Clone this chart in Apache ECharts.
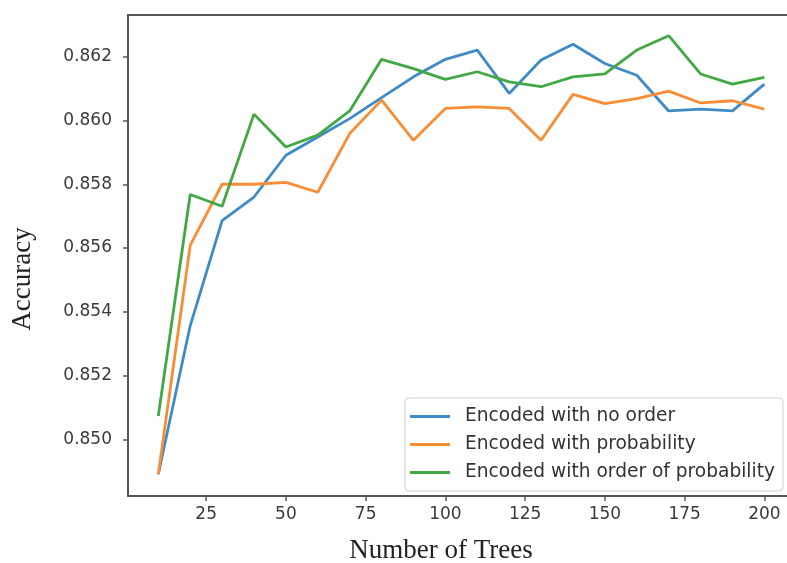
<!DOCTYPE html>
<html>
<head>
<meta charset="utf-8">
<script src="https://cdn.jsdelivr.net/npm/echarts@6/dist/echarts.min.js"></script>
<style>
  html, body { margin: 0; padding: 0; background: #fff; }
  #chart { width: 787px; height: 563px; }
</style>
</head>
<body>
<div id="chart"></div>
<script>
const trees = [10, 20, 30, 40, 50, 60, 70, 80, 90, 100, 110, 120, 130, 140, 150, 160, 170, 180, 190, 200];
const noOrder = [0.8489, 0.85356, 0.85686, 0.8576, 0.85891, 0.85948, 0.86006, 0.86072, 0.86137, 0.86192,
  0.86221, 0.86085, 0.8619, 0.86239, 0.86179, 0.86142, 0.8603, 0.86036, 0.8603, 0.86114];
const probability = [0.8489, 0.85608, 0.8580, 0.8580, 0.85806, 0.85775, 0.85959, 0.86064, 0.85938, 0.86038,
  0.86043, 0.86038, 0.85938, 0.86082, 0.86053, 0.86069, 0.86092, 0.86055, 0.86062, 0.86036];
const orderOfProbability = [0.85073, 0.85768, 0.85731, 0.8602, 0.85917, 0.85954, 0.8603, 0.86192, 0.86163, 0.86129,
  0.86153, 0.86121, 0.86106, 0.86137, 0.86146, 0.86221, 0.86266, 0.86146, 0.86114, 0.86135];
const xTicks = [25, 50, 75, 100, 125, 150, 175, 200];
const yTicks = [0.850, 0.852, 0.854, 0.856, 0.858, 0.860, 0.862];
const seriesNames = ['Encoded with no order', 'Encoded with probability', 'Encoded with order of probability'];
const colors = ['#3f8bc6', '#f98d35', '#42a843'];

const chart = echarts.init(document.getElementById('chart'));

const pairs = (vals) => trees.map((t, i) => [t, vals[i]]);
const tickFont = { fontFamily: 'DejaVu Sans', fontSize: 17, color: '#3a3a3a' };
const frameLine = { color: '#555', width: 2 };

// the original figure is cropped on the right: no right spine, x range stops short
const option = {
  animation: false,
  color: colors,
  grid: { left: 128, top: 15, right: 0, height: 481 },
  xAxis: [
    {
      type: 'value',
      min: 0.5,
      max: 207.1,
      splitLine: { show: false },
      axisLine: { lineStyle: frameLine },
      axisTick: { customValues: xTicks, length: 5, lineStyle: { color: '#555', width: 1.5 } },
      axisLabel: { customValues: xTicks, margin: 10, ...tickFont },
    },
    {
      // top spine only
      type: 'value',
      position: 'top',
      min: 0.5,
      max: 207.1,
      splitLine: { show: false },
      axisLine: { show: true, lineStyle: frameLine },
      axisTick: { show: false },
      axisLabel: { show: false },
    },
  ],
  yAxis: {
    type: 'value',
    min: 0.84822,
    max: 0.86331,
    splitLine: { show: false },
    axisLine: { show: true, lineStyle: frameLine },
    axisTick: { show: true, customValues: yTicks, length: 5, lineStyle: { color: '#555', width: 1.5 } },
    axisLabel: { customValues: yTicks, margin: 16, formatter: (v) => v.toFixed(3), ...tickFont },
  },
  legend: {
    data: seriesNames,
    orient: 'vertical',
    left: 405,
    top: 398,
    padding: [9, 8, 9, 5],
    itemGap: 9,
    itemWidth: 40,
    itemHeight: 3,
    icon: 'rect',
    backgroundColor: 'rgba(255,255,255,0.85)',
    borderColor: '#d0d0d0',
    borderWidth: 1,
    borderRadius: 4,
    textStyle: { fontFamily: 'DejaVu Sans', fontSize: 18.6, lineHeight: 18, color: '#333', padding: [0, 0, 0, 10] },
  },
  graphic: [
    {
      type: 'text',
      x: 441, y: 551,
      style: { text: 'Number of Trees', font: '27px "Liberation Serif"', fill: '#222', align: 'center', verticalAlign: 'middle' },
    },
    {
      type: 'text',
      x: 23, y: 279,
      rotation: Math.PI / 2,
      style: { text: 'Accuracy', font: '27px "Liberation Serif"', fill: '#222', align: 'center', verticalAlign: 'middle' },
    },
  ],
  series: [noOrder, probability, orderOfProbability].map((vals, i) => ({
    name: seriesNames[i],
    type: 'line',
    data: pairs(vals),
    showSymbol: false,
    symbol: 'none',
    lineStyle: { width: 2.8, color: colors[i] },
    itemStyle: { color: colors[i] },
  })),
};

chart.setOption(option);
</script>
</body>
</html>
